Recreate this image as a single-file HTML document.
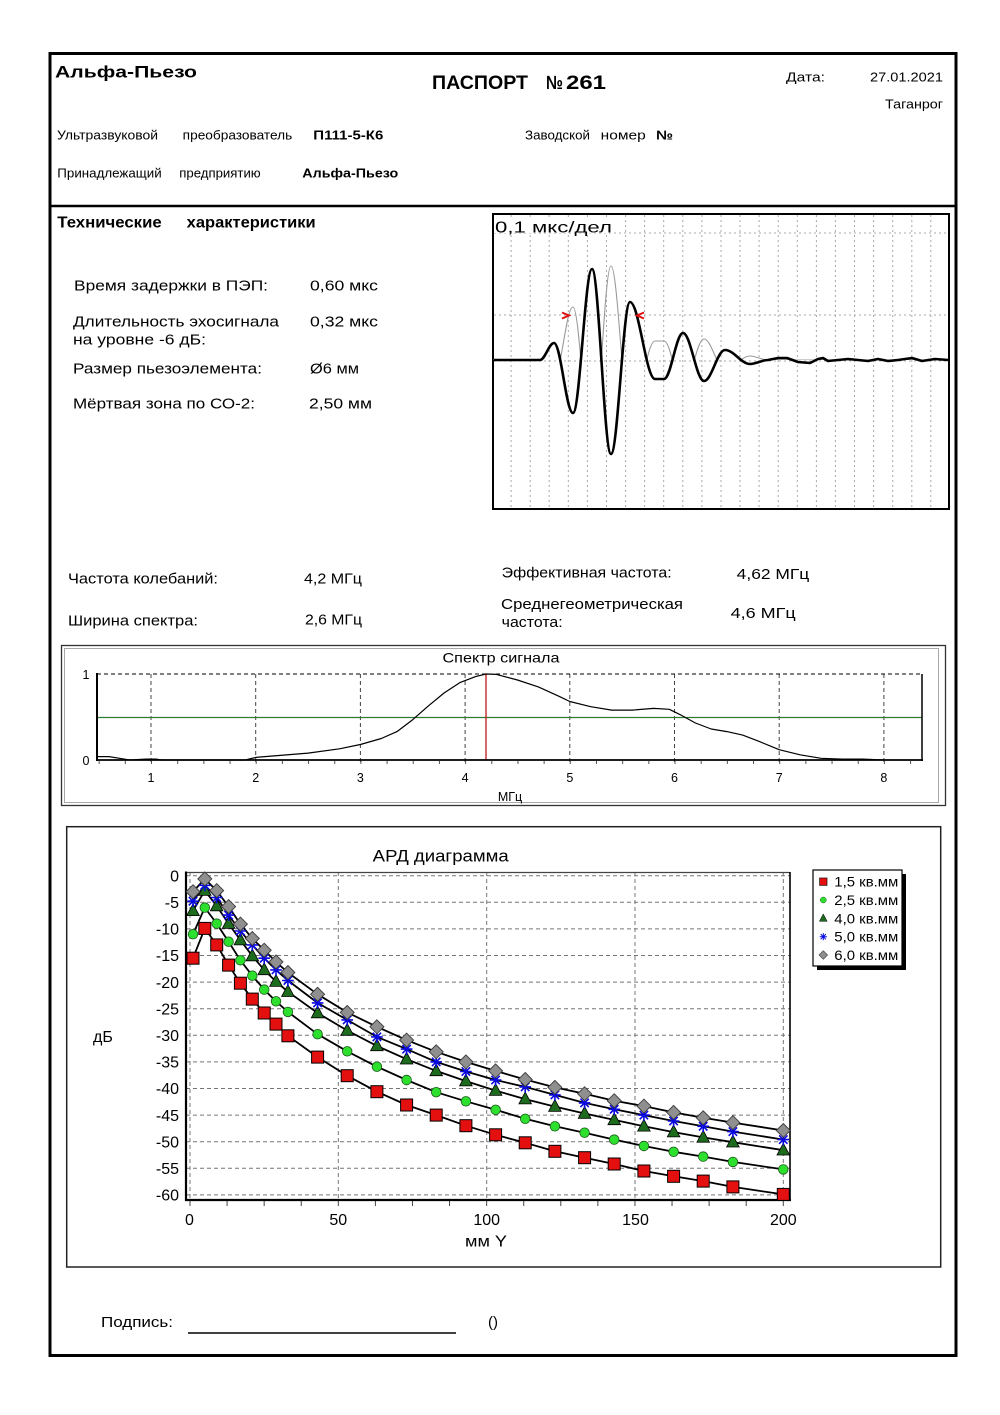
<!DOCTYPE html>
<html><head><meta charset="utf-8"><style>html,body{margin:0;padding:0;background:#fff}svg{display:block}</style></head>
<body>
<svg width="1000" height="1415" viewBox="0 0 1000 1415" xmlns="http://www.w3.org/2000/svg" font-family="'Liberation Sans', Arial, sans-serif" fill="#000">
<defs>
<g id="sq"><rect x="-6" y="-6" width="12" height="12" fill="#e41010" stroke="#000" stroke-width="1"/></g>
<g id="ci"><circle r="4.8" fill="#2ee02e" stroke="#1a5a1a" stroke-width="0.8"/></g>
<g id="tr"><polygon points="0,-7 -6.3,4.8 6.3,4.8" fill="#1d6b1d" stroke="#000" stroke-width="0.8"/></g>
<g id="st"><path d="M-5.8,0H5.8M0,-5.8V5.8M-4.2,-4.2L4.2,4.2M-4.2,4.2L4.2,-4.2" stroke="#0a0ae0" stroke-width="1.6" fill="none"/></g>
<g id="di"><polygon points="0,-7 7,0 0,7 -7,0" fill="#8f8f8f" stroke="#3a3a3a" stroke-width="0.9"/></g>
<clipPath id="up"><rect x="492" y="213" width="458" height="147"/></clipPath>
</defs>

<!-- outer frame -->
<rect x="50" y="53.5" width="906" height="1302" fill="none" stroke="#000" stroke-width="3"/>
<line x1="50" y1="206" x2="956" y2="206" stroke="#000" stroke-width="2.5"/>

<!-- header -->
<text x="55" y="77.5" font-size="17" font-weight="bold" textLength="142" lengthAdjust="spacingAndGlyphs">Альфа-Пьезо</text>
<text x="432" y="89" font-size="19" font-weight="bold" textLength="96" lengthAdjust="spacingAndGlyphs">ПАСПОРТ</text>
<text x="546" y="89" font-size="19" font-weight="bold" textLength="17" lengthAdjust="spacingAndGlyphs">№</text>
<text x="566" y="89" font-size="19" font-weight="bold" textLength="40" lengthAdjust="spacingAndGlyphs">261</text>
<text x="786" y="81.5" font-size="13" textLength="39" lengthAdjust="spacingAndGlyphs">Дата:</text>
<text x="870" y="81.5" font-size="13" textLength="73" lengthAdjust="spacingAndGlyphs">27.01.2021</text>
<text x="885" y="108.5" font-size="13" textLength="58" lengthAdjust="spacingAndGlyphs">Таганрог</text>

<text x="57" y="139.5" font-size="13" textLength="101" lengthAdjust="spacingAndGlyphs">Ультразвуковой</text>
<text x="182.7" y="139.5" font-size="13" textLength="109.6" lengthAdjust="spacingAndGlyphs">преобразователь</text>
<text x="313.3" y="139.5" font-size="13" font-weight="bold" textLength="70" lengthAdjust="spacingAndGlyphs">П111-5-К6</text>
<text x="525" y="139.5" font-size="13" textLength="65" lengthAdjust="spacingAndGlyphs">Заводской</text>
<text x="600.7" y="139.5" font-size="13" textLength="45" lengthAdjust="spacingAndGlyphs">номер</text>
<text x="656" y="139.5" font-size="13" font-weight="bold" textLength="17" lengthAdjust="spacingAndGlyphs">№</text>

<text x="57.3" y="177.5" font-size="13" textLength="104.4" lengthAdjust="spacingAndGlyphs">Принадлежащий</text>
<text x="179.3" y="177.5" font-size="13" textLength="81.4" lengthAdjust="spacingAndGlyphs">предприятию</text>
<text x="302.3" y="177.5" font-size="13" font-weight="bold" textLength="96" lengthAdjust="spacingAndGlyphs">Альфа-Пьезо</text>

<text x="57.3" y="227.5" font-size="15.5" font-weight="bold" textLength="104.4" lengthAdjust="spacingAndGlyphs">Технические</text>
<text x="186.7" y="227.5" font-size="15.5" font-weight="bold" textLength="129" lengthAdjust="spacingAndGlyphs">характеристики</text>

<!-- characteristics -->
<g font-size="14.5">
<text x="74" y="290.5" textLength="194" lengthAdjust="spacingAndGlyphs">Время задержки в ПЭП:</text>
<text x="310" y="290.5" textLength="68" lengthAdjust="spacingAndGlyphs">0,60  мкс</text>
<text x="73" y="326.5" textLength="206" lengthAdjust="spacingAndGlyphs">Длительность  эхосигнала</text>
<text x="310" y="326.5" textLength="68" lengthAdjust="spacingAndGlyphs">0,32  мкс</text>
<text x="73" y="344.5" textLength="133" lengthAdjust="spacingAndGlyphs">на уровне -6 дБ:</text>
<text x="73" y="373.5" textLength="189" lengthAdjust="spacingAndGlyphs">Размер пьезоэлемента:</text>
<text x="310" y="373.5" textLength="49" lengthAdjust="spacingAndGlyphs">Ø6 мм</text>
<text x="73" y="408.3" textLength="182" lengthAdjust="spacingAndGlyphs">Мёртвая зона по СО-2:</text>
<text x="309" y="408.3" textLength="63" lengthAdjust="spacingAndGlyphs">2,50  мм</text>

<text x="68" y="583.5" textLength="150" lengthAdjust="spacingAndGlyphs">Частота   колебаний:</text>
<text x="304" y="583.5" textLength="58" lengthAdjust="spacingAndGlyphs">4,2  МГц</text>
<text x="68" y="625.5" textLength="130" lengthAdjust="spacingAndGlyphs">Ширина  спектра:</text>
<text x="305" y="624.5" textLength="57" lengthAdjust="spacingAndGlyphs">2,6  МГц</text>
<text x="501.7" y="577.3" textLength="170" lengthAdjust="spacingAndGlyphs">Эффективная   частота:</text>
<text x="736.7" y="579" textLength="72.6" lengthAdjust="spacingAndGlyphs">4,62  МГц</text>
<text x="501" y="609" textLength="182" lengthAdjust="spacingAndGlyphs">Среднегеометрическая</text>
<text x="501.7" y="627" textLength="61" lengthAdjust="spacingAndGlyphs">частота:</text>
<text x="730.7" y="618" textLength="65" lengthAdjust="spacingAndGlyphs">4,6  МГц</text>
</g>

<!-- waveform -->
<rect x="493" y="214" width="456" height="295" fill="#fff" stroke="#000" stroke-width="2"/>
<g stroke="#a8a8a8" stroke-width="1" stroke-dasharray="2 3">
<line x1="511.1" y1="215" x2="511.1" y2="508"/><line x1="530.2" y1="215" x2="530.2" y2="508"/><line x1="549.2" y1="215" x2="549.2" y2="508"/><line x1="568.3" y1="215" x2="568.3" y2="508"/><line x1="587.4" y1="215" x2="587.4" y2="508"/><line x1="606.5" y1="215" x2="606.5" y2="508"/><line x1="625.6" y1="215" x2="625.6" y2="508"/><line x1="644.6" y1="215" x2="644.6" y2="508"/><line x1="663.7" y1="215" x2="663.7" y2="508"/><line x1="682.8" y1="215" x2="682.8" y2="508"/><line x1="701.9" y1="215" x2="701.9" y2="508"/><line x1="721" y1="215" x2="721" y2="508"/><line x1="740" y1="215" x2="740" y2="508"/><line x1="759.1" y1="215" x2="759.1" y2="508"/><line x1="778.2" y1="215" x2="778.2" y2="508"/><line x1="797.3" y1="215" x2="797.3" y2="508"/><line x1="816.4" y1="215" x2="816.4" y2="508"/><line x1="835.4" y1="215" x2="835.4" y2="508"/><line x1="854.5" y1="215" x2="854.5" y2="508"/><line x1="873.6" y1="215" x2="873.6" y2="508"/><line x1="892.7" y1="215" x2="892.7" y2="508"/><line x1="911.8" y1="215" x2="911.8" y2="508"/><line x1="930.8" y1="215" x2="930.8" y2="508"/>
<line x1="494" y1="233" x2="948" y2="233"/><line x1="494" y1="315" x2="948" y2="315"/><line x1="494" y1="361" x2="948" y2="361"/>
</g>
<rect x="494" y="217" width="118" height="16" fill="#fff"/>
<text x="495" y="232.5" font-size="16" textLength="117" lengthAdjust="spacingAndGlyphs">0,1 мкс/дел</text>
<g clip-path="url(#up)">
<path transform="translate(0,720) scale(1,-1)" fill="none" stroke="#9a9a9a" stroke-width="1.1" d="M493,360 L540,360 C545,360 549,343 554,343 C561,343 566,413 573,413 C580,413 585,269 592,269 C599,269 604,454 611,454 C618,454 623,302 630,302 C639,302 646,379 655,379 L664,379 C671,379 676,333 683,333 C690.6,333 696.4,381 704,381 C711.6,381 717.4,350 725,350 C734,350 741,364 750,364 C756,364 762,360 768,360 L948,360"/>
</g>
<path fill="none" stroke="#000" stroke-width="2.6" stroke-linejoin="round" d="M494,360 L540,360 C545,360 549,343 554,343 C561,343 566,413 573,413 C580,413 585,269 592,269 C599,269 604,454 611,454 C618,454 623,302 630,302 C639,302 646,379 655,379 L664,379 C671,379 676,333 683,333 C690.6,333 696.4,381 704,381 C711.6,381 717.4,350 725,350 C734,350 741,364 750,364 C756,364 762,360 768,360 L778,358 L787,358 L798,362 L810,363 L818,359 L823,358 L828,361 L838,360 L848,359 L858,360 L868,361 L878,359 L888,361 L898,360 L912,358 L922,361 L935,359 L948,360"/>
<path d="M562,312.5 L569,315.5 L562,318.5 M644,312.5 L637,315.5 L644,318.5" fill="none" stroke="#e01010" stroke-width="2"/>

<!-- spectrum -->
<rect x="61.5" y="645.5" width="884" height="160" fill="#fff" stroke="#333" stroke-width="1.3"/>
<rect x="64.5" y="648.5" width="874" height="154" fill="none" stroke="#a8a8a8" stroke-width="1"/>
<text x="501" y="662.5" font-size="14" text-anchor="middle" textLength="117" lengthAdjust="spacingAndGlyphs">Спектр сигнала</text>
<g stroke="#444" stroke-width="1" stroke-dasharray="4 3">
<line x1="151" y1="674" x2="151" y2="765"/><line x1="255.7" y1="674" x2="255.7" y2="765"/><line x1="360.4" y1="674" x2="360.4" y2="765"/><line x1="465.1" y1="674" x2="465.1" y2="765"/><line x1="569.8" y1="674" x2="569.8" y2="765"/><line x1="674.5" y1="674" x2="674.5" y2="765"/><line x1="779.2" y1="674" x2="779.2" y2="765"/><line x1="883.9" y1="674" x2="883.9" y2="765"/>
<line x1="97" y1="674" x2="922" y2="674" stroke="#000"/>
</g>
<line x1="97" y1="717.5" x2="922" y2="717.5" stroke="#2f7d2f" stroke-width="1.3"/>
<line x1="486" y1="674" x2="486" y2="760" stroke="#c01818" stroke-width="1.3"/>
<line x1="97" y1="673" x2="97" y2="761" stroke="#000" stroke-width="2"/>
<line x1="922" y1="674" x2="922" y2="761" stroke="#000" stroke-width="1.5"/>
<line x1="96" y1="760" x2="923" y2="760" stroke="#000" stroke-width="1.8"/>
<line x1="98.65" y1="762.5" x2="922" y2="762.5" stroke="#555" stroke-width="3" stroke-dasharray="1 25.175"/>
<polyline fill="none" stroke="#000" stroke-width="1.2" stroke-linejoin="round" points="97.6,756.6 109,756.6 119.6,758.3 130,760 145.8,759.1 156.2,759.1 161.5,760 245.2,760 255.7,757.4 308.1,753.1 339.5,748.8 360.4,744.5 381.3,738.5 397,731.6 412.8,719.6 428.5,705.8 444.2,692.9 459.9,682.6 475.6,676.6 486,674 496.5,674.4 517.5,680 538.4,686.9 559.3,696.4 569.8,701.5 590.7,706.7 611.7,710.1 632.6,710.1 653.6,708.4 669.3,709.3 679.7,714.4 695.4,723 711.2,729 726.9,731.6 742.6,735.1 758.3,741.1 779.2,749.7 800.1,754.8 821.1,758.3 842,759.1 863,759.1 883.9,760"/>
<g font-size="12.5" text-anchor="middle">
<text x="86" y="679">1</text><text x="86" y="765">0</text>
<text x="151" y="782">1</text><text x="255.7" y="782">2</text><text x="360.4" y="782">3</text><text x="465.1" y="782">4</text><text x="569.8" y="782">5</text><text x="674.5" y="782">6</text><text x="779.2" y="782">7</text><text x="883.9" y="782">8</text>
<text x="510" y="801">МГц</text>
</g>

<!-- ARD diagram -->
<rect x="66.7" y="826.7" width="874" height="440.3" fill="#fff" stroke="#222" stroke-width="1.5"/>
<text x="372.7" y="861.7" font-size="17" textLength="136" lengthAdjust="spacingAndGlyphs">АРД диаграмма</text>
<g stroke="#777" stroke-width="1" stroke-dasharray="4 3">
<line x1="186" y1="875.7" x2="790" y2="875.7"/><line x1="186" y1="902.3" x2="790" y2="902.3"/><line x1="186" y1="928.9" x2="790" y2="928.9"/><line x1="186" y1="955.5" x2="790" y2="955.5"/><line x1="186" y1="982.1" x2="790" y2="982.1"/><line x1="186" y1="1008.7" x2="790" y2="1008.7"/><line x1="186" y1="1035.3" x2="790" y2="1035.3"/><line x1="186" y1="1061.9" x2="790" y2="1061.9"/><line x1="186" y1="1088.5" x2="790" y2="1088.5"/><line x1="186" y1="1115.1" x2="790" y2="1115.1"/><line x1="186" y1="1141.7" x2="790" y2="1141.7"/><line x1="186" y1="1168.3" x2="790" y2="1168.3"/><line x1="186" y1="1194.9" x2="790" y2="1194.9"/>
<line x1="190" y1="872" x2="190" y2="1200"/><line x1="338.3" y1="872" x2="338.3" y2="1200"/><line x1="486.7" y1="872" x2="486.7" y2="1200"/><line x1="635" y1="872" x2="635" y2="1200"/><line x1="783.3" y1="872" x2="783.3" y2="1200"/>
</g>
<line x1="186" y1="872.5" x2="790" y2="872.5" stroke="#444" stroke-width="1.2"/>
<line x1="790" y1="872" x2="790" y2="1201" stroke="#000" stroke-width="1.6"/>
<line x1="186" y1="871.5" x2="186" y2="1201" stroke="#000" stroke-width="2.2"/>
<line x1="185" y1="1200" x2="791" y2="1200" stroke="#000" stroke-width="2.2"/>
<line x1="189.5" y1="1203.5" x2="790" y2="1203.5" stroke="#444" stroke-width="5" stroke-dasharray="1 36.08"/>
<g font-size="16" text-anchor="end">
<text x="179" y="881.4">0</text><text x="179" y="908">-5</text><text x="179" y="934.6">-10</text><text x="179" y="961.2">-15</text><text x="179" y="987.8">-20</text><text x="179" y="1014.4">-25</text><text x="179" y="1041">-30</text><text x="179" y="1067.6">-35</text><text x="179" y="1094.2">-40</text><text x="179" y="1120.8">-45</text><text x="179" y="1147.4">-50</text><text x="179" y="1174">-55</text><text x="179" y="1200.6">-60</text>
</g>
<text x="93" y="1042" font-size="16">дБ</text>
<g font-size="16" text-anchor="middle">
<text x="189.5" y="1225">0</text><text x="338.3" y="1225">50</text><text x="486.7" y="1225">100</text><text x="635.5" y="1225">150</text><text x="783.3" y="1225">200</text>
</g>
<text x="465" y="1246.7" font-size="16" textLength="42" lengthAdjust="spacingAndGlyphs">мм Y</text>

<g fill="none" stroke="#000" stroke-width="1.8" stroke-linejoin="round">
<polyline points="193,958.2 204.8,928.4 216.7,944.9 228.6,965.1 240.4,983.2 252.3,999.1 264.2,1013 276,1024.1 287.9,1035.8 317.6,1057.1 347.2,1075.7 376.9,1091.7 406.6,1105 436.2,1115.1 465.9,1125.7 495.6,1134.8 525.2,1142.8 554.9,1151.3 584.6,1157.7 614.2,1164 643.9,1171 673.6,1176.3 703.2,1181.1 732.9,1186.9 783.3,1194.4"/>
<polyline points="193,934.2 204.8,907.6 216.7,923.6 228.6,941.7 240.4,960.3 252.3,975.7 264.2,989.6 276,1001.3 287.9,1011.9 317.6,1034.2 347.2,1051.3 376.9,1066.7 406.6,1080 436.2,1092.2 465.9,1101.3 495.6,1109.8 525.2,1118.8 554.9,1126.3 584.6,1132.7 614.2,1139.6 643.9,1146 673.6,1151.8 703.2,1156.6 732.9,1161.9 783.3,1169.4"/>
<polyline points="193,910.8 204.8,890.6 216.7,906 228.6,923.6 240.4,940.1 252.3,956 264.2,969.9 276,981.6 287.9,991.7 317.6,1013 347.2,1030.5 376.9,1045.9 406.6,1059.2 436.2,1070.9 465.9,1081.1 495.6,1090.6 525.2,1099.1 554.9,1106.6 584.6,1113.5 614.2,1119.9 643.9,1126.3 673.6,1132.1 703.2,1137.4 732.9,1142.2 783.3,1150.2"/>
<polyline points="193,901.2 204.8,885.3 216.7,897.5 228.6,915.1 240.4,931 252.3,944.9 264.2,958.2 276,969.9 287.9,980.5 317.6,1002.9 347.2,1019.9 376.9,1036.9 406.6,1049.1 436.2,1061.9 465.9,1071.5 495.6,1080 525.2,1086.9 554.9,1094.9 584.6,1102.9 614.2,1109.3 643.9,1115.1 673.6,1121 703.2,1126.3 732.9,1131.6 783.3,1139.6"/>
<polyline points="193,891.7 204.8,878.9 216.7,890.6 228.6,906.6 240.4,924.1 252.3,938.5 264.2,950.2 276,961.9 287.9,972.5 317.6,994.3 347.2,1012.4 376.9,1026.8 406.6,1040.1 436.2,1051.8 465.9,1061.9 495.6,1070.9 525.2,1079.5 554.9,1087.4 584.6,1093.8 614.2,1100.7 643.9,1106.1 673.6,1112.4 703.2,1117.8 732.9,1122.6 783.3,1130.5"/>
</g>

<!-- red squares -->
<use href="#sq" x="193" y="958.2"/><use href="#sq" x="204.8" y="928.4"/><use href="#sq" x="216.7" y="944.9"/><use href="#sq" x="228.6" y="965.1"/><use href="#sq" x="240.4" y="983.2"/><use href="#sq" x="252.3" y="999.1"/><use href="#sq" x="264.2" y="1013"/><use href="#sq" x="276" y="1024.1"/><use href="#sq" x="287.9" y="1035.8"/><use href="#sq" x="317.6" y="1057.1"/><use href="#sq" x="347.2" y="1075.7"/><use href="#sq" x="376.9" y="1091.7"/><use href="#sq" x="406.6" y="1105"/><use href="#sq" x="436.2" y="1115.1"/><use href="#sq" x="465.9" y="1125.7"/><use href="#sq" x="495.6" y="1134.8"/><use href="#sq" x="525.2" y="1142.8"/><use href="#sq" x="554.9" y="1151.3"/><use href="#sq" x="584.6" y="1157.7"/><use href="#sq" x="614.2" y="1164"/><use href="#sq" x="643.9" y="1171"/><use href="#sq" x="673.6" y="1176.3"/><use href="#sq" x="703.2" y="1181.1"/><use href="#sq" x="732.9" y="1186.9"/><use href="#sq" x="783.3" y="1194.4"/>
<!-- green circles -->
<use href="#ci" x="193" y="934.2"/><use href="#ci" x="204.8" y="907.6"/><use href="#ci" x="216.7" y="923.6"/><use href="#ci" x="228.6" y="941.7"/><use href="#ci" x="240.4" y="960.3"/><use href="#ci" x="252.3" y="975.7"/><use href="#ci" x="264.2" y="989.6"/><use href="#ci" x="276" y="1001.3"/><use href="#ci" x="287.9" y="1011.9"/><use href="#ci" x="317.6" y="1034.2"/><use href="#ci" x="347.2" y="1051.3"/><use href="#ci" x="376.9" y="1066.7"/><use href="#ci" x="406.6" y="1080"/><use href="#ci" x="436.2" y="1092.2"/><use href="#ci" x="465.9" y="1101.3"/><use href="#ci" x="495.6" y="1109.8"/><use href="#ci" x="525.2" y="1118.8"/><use href="#ci" x="554.9" y="1126.3"/><use href="#ci" x="584.6" y="1132.7"/><use href="#ci" x="614.2" y="1139.6"/><use href="#ci" x="643.9" y="1146"/><use href="#ci" x="673.6" y="1151.8"/><use href="#ci" x="703.2" y="1156.6"/><use href="#ci" x="732.9" y="1161.9"/><use href="#ci" x="783.3" y="1169.4"/>
<!-- triangles -->
<use href="#tr" x="193" y="910.8"/><use href="#tr" x="204.8" y="890.6"/><use href="#tr" x="216.7" y="906"/><use href="#tr" x="228.6" y="923.6"/><use href="#tr" x="240.4" y="940.1"/><use href="#tr" x="252.3" y="956"/><use href="#tr" x="264.2" y="969.9"/><use href="#tr" x="276" y="981.6"/><use href="#tr" x="287.9" y="991.7"/><use href="#tr" x="317.6" y="1013"/><use href="#tr" x="347.2" y="1030.5"/><use href="#tr" x="376.9" y="1045.9"/><use href="#tr" x="406.6" y="1059.2"/><use href="#tr" x="436.2" y="1070.9"/><use href="#tr" x="465.9" y="1081.1"/><use href="#tr" x="495.6" y="1090.6"/><use href="#tr" x="525.2" y="1099.1"/><use href="#tr" x="554.9" y="1106.6"/><use href="#tr" x="584.6" y="1113.5"/><use href="#tr" x="614.2" y="1119.9"/><use href="#tr" x="643.9" y="1126.3"/><use href="#tr" x="673.6" y="1132.1"/><use href="#tr" x="703.2" y="1137.4"/><use href="#tr" x="732.9" y="1142.2"/><use href="#tr" x="783.3" y="1150.2"/>
<!-- stars -->
<use href="#st" x="193" y="901.2"/><use href="#st" x="204.8" y="885.3"/><use href="#st" x="216.7" y="897.5"/><use href="#st" x="228.6" y="915.1"/><use href="#st" x="240.4" y="931"/><use href="#st" x="252.3" y="944.9"/><use href="#st" x="264.2" y="958.2"/><use href="#st" x="276" y="969.9"/><use href="#st" x="287.9" y="980.5"/><use href="#st" x="317.6" y="1002.9"/><use href="#st" x="347.2" y="1019.9"/><use href="#st" x="376.9" y="1036.9"/><use href="#st" x="406.6" y="1049.1"/><use href="#st" x="436.2" y="1061.9"/><use href="#st" x="465.9" y="1071.5"/><use href="#st" x="495.6" y="1080"/><use href="#st" x="525.2" y="1086.9"/><use href="#st" x="554.9" y="1094.9"/><use href="#st" x="584.6" y="1102.9"/><use href="#st" x="614.2" y="1109.3"/><use href="#st" x="643.9" y="1115.1"/><use href="#st" x="673.6" y="1121"/><use href="#st" x="703.2" y="1126.3"/><use href="#st" x="732.9" y="1131.6"/><use href="#st" x="783.3" y="1139.6"/>
<!-- diamonds -->
<use href="#di" x="193" y="891.7"/><use href="#di" x="204.8" y="878.9"/><use href="#di" x="216.7" y="890.6"/><use href="#di" x="228.6" y="906.6"/><use href="#di" x="240.4" y="924.1"/><use href="#di" x="252.3" y="938.5"/><use href="#di" x="264.2" y="950.2"/><use href="#di" x="276" y="961.9"/><use href="#di" x="287.9" y="972.5"/><use href="#di" x="317.6" y="994.3"/><use href="#di" x="347.2" y="1012.4"/><use href="#di" x="376.9" y="1026.8"/><use href="#di" x="406.6" y="1040.1"/><use href="#di" x="436.2" y="1051.8"/><use href="#di" x="465.9" y="1061.9"/><use href="#di" x="495.6" y="1070.9"/><use href="#di" x="525.2" y="1079.5"/><use href="#di" x="554.9" y="1087.4"/><use href="#di" x="584.6" y="1093.8"/><use href="#di" x="614.2" y="1100.7"/><use href="#di" x="643.9" y="1106.1"/><use href="#di" x="673.6" y="1112.4"/><use href="#di" x="703.2" y="1117.8"/><use href="#di" x="732.9" y="1122.6"/><use href="#di" x="783.3" y="1130.5"/>

<!-- legend -->
<rect x="817" y="874" width="89" height="96" fill="#000"/>
<rect x="813" y="870" width="89" height="96" fill="#fff" stroke="#000" stroke-width="1.2"/>
<g transform="translate(823.3,881.7) scale(0.62)"><use href="#sq"/></g>
<g transform="translate(823.3,900) scale(0.62)"><use href="#ci"/></g>
<g transform="translate(823.3,918.3) scale(0.62)"><use href="#tr"/></g>
<g transform="translate(823.3,936.7) scale(0.62)"><use href="#st"/></g>
<g transform="translate(823.3,955) scale(0.62)"><use href="#di"/></g>
<g font-size="14">
<text x="834.3" y="886.7" textLength="64" lengthAdjust="spacingAndGlyphs">1,5 кв.мм</text>
<text x="834.3" y="905" textLength="64" lengthAdjust="spacingAndGlyphs">2,5 кв.мм</text>
<text x="834.3" y="923.3" textLength="64" lengthAdjust="spacingAndGlyphs">4,0 кв.мм</text>
<text x="834.3" y="941.7" textLength="64" lengthAdjust="spacingAndGlyphs">5,0 кв.мм</text>
<text x="834.3" y="960" textLength="64" lengthAdjust="spacingAndGlyphs">6,0 кв.мм</text>
</g>

<!-- signature -->
<text x="101" y="1327" font-size="15" textLength="72" lengthAdjust="spacingAndGlyphs">Подпись:</text>
<line x1="188" y1="1333" x2="456" y2="1333" stroke="#000" stroke-width="1.5"/>
<text x="488" y="1327" font-size="15">()</text>
</svg>
</body></html>
